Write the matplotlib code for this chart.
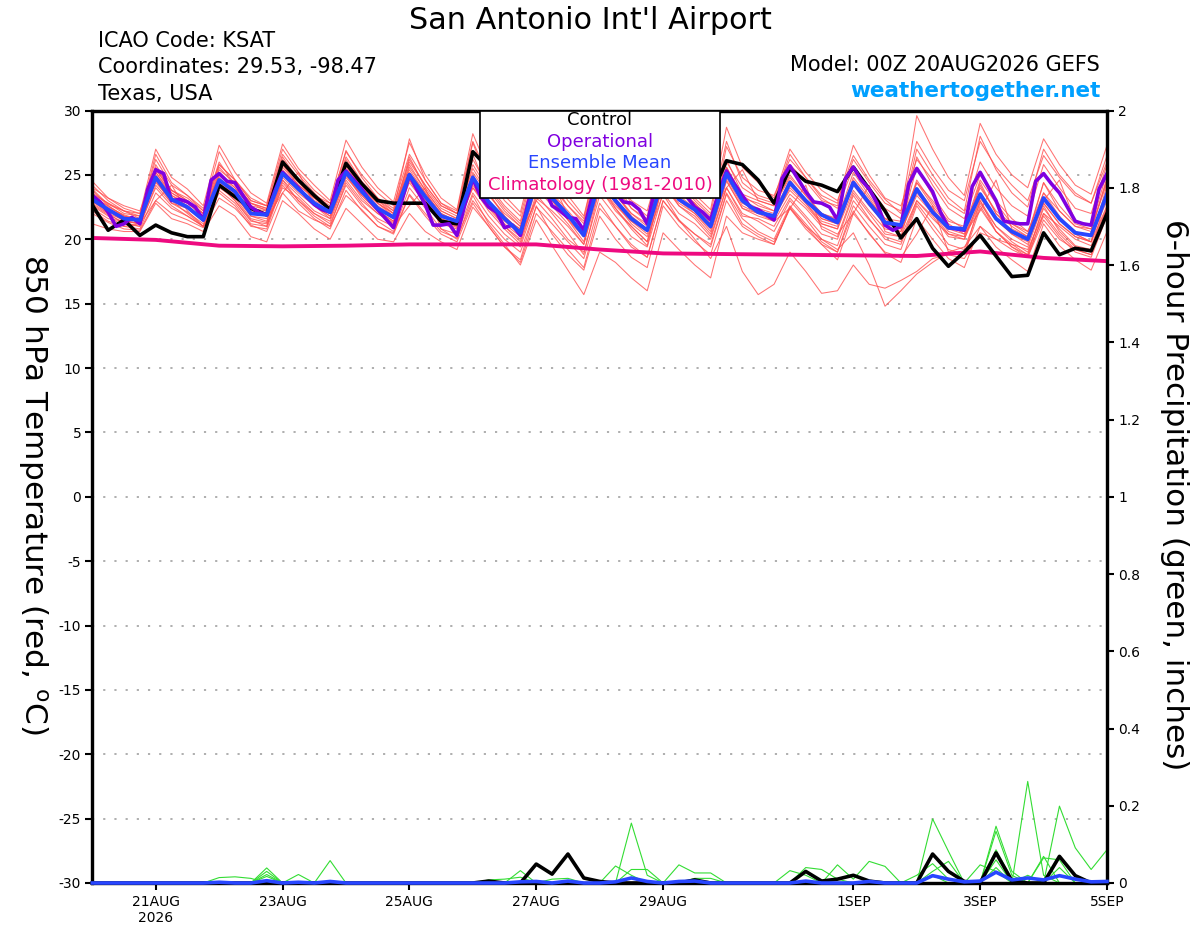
import matplotlib
matplotlib.use('Agg')
import matplotlib.pyplot as plt
import numpy as np
from matplotlib.patches import Rectangle

plt.rcParams['font.family'] = ['DejaVu Sans']

# ---------------- DATA ----------------
# time axis: days since 20AUG2026 00Z ; 6-hourly (65 pts) and 3-hourly (129 pts)
n6 = 65
n3 = 129

tick_days = [1, 3, 5, 7, 9, 12, 14, 16]
tick_labels = ['21AUG\n2026', '23AUG', '25AUG', '27AUG', '29AUG', '1SEP', '3SEP', '5SEP']

temp_yticks = [-30, -25, -20, -15, -10, -5, 0, 5, 10, 15, 20, 25, 30]
precip_yticks = [0, 0.2, 0.4, 0.6, 0.8, 1, 1.2, 1.4, 1.6, 1.8, 2]

control_T = [22.65, 20.7, 21.5, 20.3, 21.1, 20.5, 20.2, 20.2, 24.2, 23.3, 22.4, 21.9,
             26.0, 24.6, 23.4, 22.3, 25.9, 24.3, 23.0, 22.8, 22.8, 22.8, 21.4, 21.2,
             26.8, 25.5, 24.6, 23.9, 25.6, 24.9, 24.3, 23.8, 25.8, 25.1, 24.6, 24.0,
             25.7, 25.0, 24.4, 23.3, 26.1, 25.8, 24.6, 22.8, 25.5, 24.5, 24.2, 23.7,
             25.6, 23.9, 22.2, 20.1, 21.6, 19.3, 17.9, 19.0, 20.3, 18.7, 17.1, 17.2,
             20.5, 18.8, 19.3, 19.1, 22.0]

operational_T = [23.4, 22.9, 22.1, 21.0, 21.2, 21.7, 21.2, 23.9, 25.4, 25.1, 23.0, 23.1,
                 22.9, 22.5, 21.5, 24.6, 25.1, 24.5, 24.4, 23.4, 22.5, 22.1, 21.9, 23.7,
                 25.2, 24.6, 24.0, 23.3, 22.7, 22.3, 22.1, 24.6, 25.3, 24.6, 23.9, 23.0,
                 22.3, 21.6, 20.9, 22.9, 25.0, 23.8, 22.7, 21.1, 21.1, 21.2, 20.3, 22.7,
                 24.7, 23.3, 22.5, 22.1, 20.9, 21.1, 20.3, 22.9, 24.9, 24.0, 22.6, 22.2,
                 21.7, 21.6, 20.7, 23.2, 25.2, 24.5, 23.6, 22.9, 22.8, 22.3, 21.2, 24.0,
                 25.2, 24.2, 23.7, 23.3, 22.5, 22.1, 21.5, 23.6, 25.3, 24.3, 23.4, 22.5,
                 22.3, 21.9, 21.5, 24.7, 25.7, 24.7, 23.7, 22.9, 22.8, 22.5, 21.5, 24.7,
                 25.6, 24.6, 23.9, 22.8, 21.1, 20.7, 21.0, 24.3, 25.5, 24.6, 23.7, 22.1,
                 20.9, 20.8, 20.7, 24.1, 25.2, 24.1, 23.0, 21.4, 21.3, 21.2, 21.2, 24.5,
                 25.1, 24.3, 23.6, 22.5, 21.4, 21.2, 21.1, 23.9, 25.1]

mean_T = [23.1, 22.3, 21.6, 21.5, 24.8, 23.1, 22.5, 21.5, 24.6, 23.7, 22.0, 21.9,
          25.1, 23.9, 22.8, 22.1, 25.2, 23.7, 22.4, 21.7, 25.0, 23.3, 21.8, 21.4,
          24.8, 22.9, 21.6, 20.5, 24.4, 23.2, 21.9, 20.3, 24.6, 23.0, 21.6, 20.7,
          24.8, 23.1, 22.3, 21.0, 25.1, 23.0, 22.1, 21.8, 24.4, 23.0, 21.9, 21.3,
          24.4, 22.8, 21.3, 21.1, 23.9, 22.1, 20.9, 20.8, 23.5, 21.6, 20.6, 20.0,
          23.2, 21.6, 20.5, 20.3, 23.5]

clim_T = [20.1, 19.95, 19.5, 19.45, 19.5, 19.6, 19.6, 19.6, 19.2, 18.9, 18.85,
          18.8, 18.75, 18.7, 19.05, 18.55, 18.3]

members_T = [
    [24.5, 23.2, 22.4, 22.0, 27.0, 24.8, 23.9, 22.6, 27.3, 25.2, 23.6, 22.8, 27.4, 25.5, 24.2, 23.0,
     27.7, 25.6, 24.0, 22.9, 27.5, 25.0, 23.2, 22.3, 28.2, 25.3, 23.4, 22.1, 27.0, 25.1, 23.4, 21.8,
     26.8, 24.9, 23.0, 22.2, 26.5, 24.8, 23.5, 22.3, 28.7, 25.6, 24.4, 23.2, 27.0, 25.2, 23.8, 23.0,
     26.5, 24.6, 23.1, 22.0, 29.6, 27.0, 24.8, 23.4, 29.0, 26.6, 25.0, 24.0, 27.8, 25.8, 24.2, 23.5, 27.3],
    [22.0, 21.3, 20.8, 20.7, 23.0, 22.0, 21.5, 20.9, 23.2, 22.4, 21.1, 20.6, 23.6, 22.2, 21.5, 21.0,
     23.4, 22.3, 21.0, 20.5, 23.5, 22.0, 20.6, 20.1, 23.0, 21.4, 20.0, 19.0, 22.5, 21.2, 19.8, 18.5,
     22.8, 21.0, 19.6, 18.6, 23.0, 21.5, 20.4, 19.4, 23.5, 21.2, 20.4, 19.8, 22.4, 21.0, 19.6, 18.4,
     22.0, 20.5, 18.9, 18.2, 21.6, 20.0, 18.5, 17.8, 21.0, 19.4, 18.4, 17.5, 21.2, 19.5, 18.4, 17.6, 20.6],
    [23.5, 22.8, 22.0, 21.8, 25.5, 23.6, 22.9, 22.0, 25.0, 24.0, 22.6, 22.3, 26.0, 24.5, 23.0, 22.4,
     25.8, 24.2, 22.8, 22.0, 26.4, 24.0, 22.4, 21.8, 25.5, 23.5, 21.8, 20.6, 24.0, 23.0, 21.5, 19.8,
     25.5, 23.6, 22.0, 21.0, 25.8, 24.0, 22.8, 21.2, 26.2, 23.5, 23.0, 22.6, 25.0, 23.4, 22.0, 21.5,
     25.2, 23.4, 21.6, 20.8, 24.6, 22.8, 21.2, 20.4, 24.2, 22.0, 21.0, 20.2, 24.4, 22.2, 21.0, 20.6, 24.8],
    [22.8, 22.0, 21.2, 21.0, 24.2, 22.8, 22.1, 21.2, 24.0, 23.2, 21.6, 21.3, 24.8, 23.6, 22.6, 21.8,
     25.0, 23.2, 22.0, 21.2, 24.6, 22.8, 21.4, 20.9, 24.0, 22.2, 20.8, 19.6, 23.5, 22.0, 20.5, 18.8,
     24.0, 22.4, 20.8, 19.5, 24.5, 22.6, 21.6, 20.2, 24.0, 22.0, 21.4, 20.6, 23.0, 21.6, 20.0, 19.2,
     20.5, 18.0, 14.8, 16.0, 17.3, 18.2, 19.0, 19.4, 21.0, 20.0, 19.2, 18.6, 21.5, 20.0, 19.2, 18.8, 22.0],
    [23.0, 22.0, 21.5, 21.2, 24.5, 23.0, 22.0, 21.0, 24.2, 23.0, 21.5, 21.0, 24.6, 23.0, 21.8, 21.0,
     24.4, 22.8, 21.4, 20.6, 24.0, 22.4, 20.8, 20.0, 23.4, 21.2, 19.6, 18.0, 21.5, 19.5, 17.6, 15.7,
     19.0, 18.2, 17.0, 16.0, 20.5, 19.2, 18.0, 17.0, 21.8, 20.5, 20.0, 19.6, 22.5, 21.0, 20.0, 19.5,
     23.0, 21.5, 20.2, 19.8, 23.0, 21.6, 20.4, 20.0, 23.2, 21.5, 20.4, 19.8, 22.8, 21.2, 20.2, 19.8, 22.6],
    [23.8, 22.6, 21.8, 21.6, 25.2, 23.4, 22.6, 21.6, 25.0, 23.8, 22.2, 22.0, 25.4, 24.0, 22.8, 22.0,
     25.6, 24.0, 22.6, 21.8, 25.2, 23.6, 22.0, 21.4, 25.0, 23.0, 21.6, 20.8, 24.6, 23.0, 21.5, 20.2,
     24.4, 22.8, 21.2, 20.2, 23.5, 21.5, 20.0, 18.5, 21.0, 17.5, 15.7, 16.5, 19.0, 17.5, 15.8, 16.0,
     18.0, 16.5, 16.2, 16.8, 17.5, 18.5, 18.8, 18.5, 20.5, 20.0, 19.6, 19.2, 22.0, 21.0, 20.0, 19.5, 22.5],
    [23.4, 22.5, 21.9, 21.5, 25.6, 23.8, 23.0, 22.0, 25.6, 24.2, 22.8, 22.4, 26.2, 24.6, 23.4, 22.8,
     26.4, 24.5, 23.2, 22.4, 26.0, 24.2, 22.6, 22.0, 26.2, 24.0, 22.4, 21.2, 25.5, 24.0, 22.6, 21.2,
     25.8, 24.0, 22.4, 21.6, 26.0, 24.4, 23.0, 21.8, 26.0, 24.0, 23.2, 22.8, 25.8, 24.5, 23.0, 22.6,
     26.2, 24.4, 22.8, 22.2, 27.6, 25.5, 23.8, 23.0, 27.6, 25.6, 24.2, 23.0, 26.5, 24.8, 23.4, 22.8, 26.0],
    [22.6, 21.8, 21.0, 21.2, 23.0, 24.2, 22.2, 21.0, 24.2, 23.0, 21.4, 21.2, 24.0, 23.2, 22.0, 21.4,
     24.6, 23.0, 22.0, 21.3, 24.4, 22.8, 21.2, 20.8, 24.2, 22.4, 21.0, 20.0, 23.2, 22.2, 21.0, 19.6,
     24.0, 22.2, 21.0, 19.8, 24.2, 22.6, 21.8, 20.4, 24.5, 22.4, 22.0, 21.4, 23.5, 22.4, 21.0, 20.4,
     22.0, 24.2, 20.6, 20.2, 23.0, 21.8, 20.2, 20.0, 22.8, 21.0, 19.8, 19.0, 22.4, 20.8, 19.5, 19.2, 22.4],
    [23.9, 22.7, 22.2, 21.8, 26.2, 24.2, 23.4, 22.2, 26.8, 24.6, 23.2, 22.6, 26.6, 25.0, 23.6, 22.4,
     26.9, 24.8, 23.2, 22.2, 27.8, 24.6, 22.8, 22.0, 27.5, 24.2, 22.6, 21.4, 26.2, 24.4, 22.6, 21.4,
     26.4, 24.5, 22.4, 21.4, 25.5, 24.2, 22.6, 21.0, 27.2, 24.8, 23.8, 23.4, 26.2, 24.8, 23.2, 22.4,
     25.6, 24.0, 22.4, 21.6, 27.0, 25.0, 23.2, 22.2, 28.0, 25.4, 23.6, 22.5, 27.0, 25.0, 23.6, 22.8, 26.5],
    [22.4, 21.6, 21.4, 21.2, 24.6, 22.8, 22.4, 21.4, 24.4, 23.4, 21.8, 21.6, 23.6, 25.2, 22.6, 21.6,
     24.8, 23.4, 22.2, 21.4, 24.8, 23.0, 21.4, 21.0, 24.5, 22.6, 21.2, 20.2, 24.2, 23.0, 21.6, 20.2,
     24.6, 22.8, 21.4, 20.6, 24.8, 23.0, 22.2, 21.0, 25.2, 22.8, 22.2, 21.6, 24.0, 22.8, 21.2, 20.8,
     23.8, 22.2, 20.8, 20.6, 23.4, 22.0, 20.4, 20.2, 23.0, 21.0, 20.0, 19.4, 22.8, 21.2, 20.2, 19.8, 23.4],
    [24.2, 23.0, 22.2, 22.0, 25.0, 23.4, 22.8, 21.8, 25.4, 24.4, 22.8, 22.4, 25.6, 24.2, 23.2, 22.2,
     25.4, 24.0, 22.8, 22.0, 25.6, 23.8, 22.2, 21.6, 25.2, 23.4, 22.0, 21.0, 25.0, 23.6, 22.2, 20.8,
     25.2, 23.4, 22.0, 21.2, 25.4, 23.6, 22.8, 21.6, 24.0, 25.4, 23.0, 22.6, 24.8, 23.4, 22.0, 21.6,
     24.6, 23.0, 21.6, 21.4, 24.4, 23.0, 21.4, 21.0, 24.0, 22.2, 21.2, 20.6, 23.6, 22.2, 21.0, 20.8, 24.4],
    [21.2, 20.8, 20.6, 20.6, 22.8, 21.6, 21.2, 20.6, 22.6, 21.8, 20.2, 19.8, 23.0, 22.0, 20.8, 20.0,
     22.4, 21.2, 20.0, 19.8, 22.0, 20.6, 19.8, 19.2, 22.5, 21.0, 19.4, 18.2, 22.0, 20.6, 19.2, 17.8,
     22.4, 21.0, 19.4, 18.6, 23.0, 21.4, 20.4, 19.6, 23.6, 21.6, 20.6, 20.0, 22.6, 21.2, 19.8, 19.0,
     22.2, 20.4, 19.0, 18.6, 20.4, 22.6, 19.0, 18.8, 22.4, 20.6, 19.6, 18.8, 21.8, 20.2, 19.0, 18.6, 21.8],
    [23.2, 22.4, 21.8, 21.4, 25.8, 23.8, 23.2, 22.2, 26.0, 24.2, 22.8, 22.2, 26.4, 24.6, 23.4, 22.6,
     26.0, 24.2, 23.0, 22.0, 25.8, 23.8, 22.2, 21.6, 26.6, 23.6, 21.8, 20.6, 25.2, 23.6, 21.8, 20.4,
     25.4, 23.6, 21.8, 20.8, 25.6, 23.8, 22.6, 21.4, 25.6, 23.2, 22.8, 22.2, 24.6, 23.0, 21.6, 21.2,
     24.8, 23.2, 21.4, 21.0, 25.6, 23.4, 21.6, 20.8, 24.6, 22.8, 21.2, 20.4, 24.4, 22.6, 21.2, 20.8, 24.6],
    [22.9, 22.2, 21.6, 21.6, 24.4, 23.0, 22.4, 21.6, 24.8, 23.6, 22.0, 21.8, 25.2, 23.8, 22.6, 21.8,
     25.4, 23.6, 22.4, 21.6, 24.6, 23.0, 21.6, 21.2, 24.0, 22.6, 21.4, 20.4, 23.0, 24.6, 21.8, 20.6,
     24.2, 22.6, 21.4, 20.4, 24.2, 22.8, 22.0, 20.8, 24.8, 22.6, 22.0, 21.8, 23.8, 22.6, 21.2, 20.8,
     24.4, 22.8, 21.0, 20.6, 23.6, 22.2, 20.6, 20.2, 23.6, 21.6, 20.4, 19.6, 23.2, 21.6, 20.4, 19.8, 23.8],
    [23.6, 22.8, 22.2, 21.6, 26.6, 24.4, 23.4, 22.4, 25.8, 24.6, 23.0, 22.6, 27.0, 25.2, 23.8, 22.8,
     26.8, 25.0, 23.6, 22.6, 26.6, 24.6, 22.8, 22.2, 27.6, 24.8, 23.0, 21.8, 26.4, 24.8, 23.0, 21.6,
     27.0, 24.8, 22.8, 21.8, 26.8, 24.6, 23.2, 22.0, 27.6, 24.4, 23.4, 23.0, 26.6, 24.8, 23.4, 22.8,
     27.3, 25.0, 23.2, 22.6, 26.2, 24.6, 22.8, 22.0, 26.0, 24.0, 22.6, 21.8, 25.8, 24.0, 22.4, 22.0, 25.8],
    [22.2, 21.4, 21.0, 20.8, 23.6, 22.4, 21.8, 21.0, 23.8, 22.8, 21.2, 21.0, 24.4, 23.0, 22.0, 21.2,
     24.2, 22.6, 21.6, 21.0, 22.6, 24.0, 20.8, 20.4, 23.6, 21.8, 20.4, 19.4, 23.0, 21.6, 20.0, 19.0,
     23.4, 21.8, 20.2, 19.4, 23.6, 22.0, 21.2, 20.0, 24.0, 21.8, 21.6, 21.0, 23.2, 21.8, 20.4, 20.0,
     23.4, 21.6, 20.0, 19.6, 22.8, 21.2, 19.6, 19.2, 22.6, 20.6, 19.4, 18.6, 22.0, 20.4, 19.2, 18.8, 22.2],
    [24.0, 23.2, 22.6, 22.2, 25.4, 23.8, 23.0, 22.0, 25.8, 24.6, 23.0, 22.6, 25.8, 24.4, 23.2, 22.4,
     26.2, 24.4, 23.0, 22.2, 25.4, 23.6, 22.0, 21.4, 25.8, 23.8, 22.2, 21.0, 24.6, 23.2, 21.8, 20.4,
     25.0, 23.2, 21.6, 20.6, 24.8, 23.2, 22.2, 21.0, 25.4, 23.0, 22.4, 22.0, 24.4, 22.8, 21.4, 21.0,
     24.2, 22.6, 21.2, 20.8, 24.0, 22.4, 20.8, 20.4, 22.2, 24.6, 20.8, 20.2, 23.0, 21.6, 20.6, 20.2, 23.0],
    [23.0, 22.2, 21.4, 21.2, 24.0, 22.6, 21.8, 21.0, 23.6, 22.6, 21.0, 20.8, 24.2, 22.8, 21.6, 20.8,
     23.8, 22.2, 21.0, 20.4, 23.4, 21.8, 20.4, 19.8, 22.8, 21.0, 19.4, 18.4, 22.6, 20.4, 18.8, 17.6,
     21.8, 20.0, 18.6, 17.8, 22.6, 21.0, 19.8, 18.8, 23.0, 21.0, 20.2, 19.6, 22.4, 20.8, 19.6, 19.0,
     22.6, 21.0, 19.6, 19.2, 22.6, 20.8, 19.2, 18.8, 23.0, 20.6, 19.4, 18.8, 22.6, 20.6, 19.4, 19.0, 23.6],
    [23.3, 22.6, 21.8, 21.4, 25.2, 23.6, 22.8, 21.8, 25.2, 24.0, 22.4, 22.2, 25.8, 24.2, 23.2, 22.4,
     25.8, 24.0, 22.8, 21.8, 26.2, 24.2, 22.6, 22.0, 24.8, 23.0, 21.6, 20.8, 24.4, 23.4, 22.0, 20.8,
     24.8, 23.0, 21.6, 20.8, 25.2, 23.4, 22.4, 21.4, 25.6, 23.4, 22.6, 22.2, 24.2, 23.0, 21.6, 21.2,
     24.4, 22.8, 21.2, 21.0, 26.4, 24.2, 22.4, 21.6, 25.0, 23.0, 21.6, 20.6, 23.0, 24.6, 21.4, 21.0, 25.2],
    [22.7, 21.9, 21.3, 21.0, 24.8, 23.2, 22.6, 21.4, 24.6, 23.4, 21.8, 21.4, 24.6, 23.4, 22.2, 21.6,
     25.0, 23.4, 22.2, 21.4, 25.0, 23.2, 21.6, 21.0, 24.4, 22.6, 21.0, 19.8, 24.0, 22.6, 21.2, 19.6,
     24.4, 22.4, 21.0, 19.8, 25.0, 23.0, 22.0, 20.6, 24.6, 22.4, 21.8, 21.4, 22.4, 24.2, 20.8, 20.2,
     23.6, 22.0, 20.4, 20.2, 24.4, 22.6, 21.0, 20.6, 24.4, 22.0, 20.6, 20.0, 23.6, 21.8, 20.4, 19.8, 24.2],
]

# 6-hour precipitation (inches); members given as {6-h index: value}, all other steps 0
control_P = {25: 0.005, 28: 0.049, 29: 0.023, 30: 0.075, 31: 0.013, 32: 0.004, 38: 0.008,
             45: 0.030, 46: 0.005, 47: 0.010, 48: 0.020, 49: 0.005, 53: 0.075, 54: 0.030,
             55: 0.004, 57: 0.078, 58: 0.006, 61: 0.069, 62: 0.019}
mean_P = {8: 0.002, 11: 0.006, 13: 0.002, 15: 0.004, 27: 0.003, 28: 0.004, 30: 0.005,
          33: 0.003, 34: 0.013, 35: 0.004, 37: 0.004, 38: 0.005, 45: 0.005, 49: 0.004,
          53: 0.019, 54: 0.010, 55: 0.003, 56: 0.005, 57: 0.028, 58: 0.008, 59: 0.013,
          60: 0.008, 61: 0.019, 62: 0.010, 63: 0.003, 64: 0.004}
members_P = [
    {34: 0.155, 35: 0.020, 53: 0.166, 54: 0.082, 57: 0.040, 59: 0.263, 60: 0.020},
    {11: 0.039, 37: 0.047, 38: 0.026, 39: 0.026, 57: 0.147, 58: 0.030, 61: 0.199,
     62: 0.091, 63: 0.035, 64: 0.086},
    {11: 0.030, 15: 0.058, 57: 0.134, 58: 0.020, 60: 0.069},
    {11: 0.022, 13: 0.022, 27: 0.032, 34: 0.035, 35: 0.035, 53: 0.030, 54: 0.056},
    {8: 0.014, 9: 0.016, 10: 0.012, 44: 0.032, 45: 0.020, 57: 0.086, 58: 0.010, 60: 0.065, 61: 0.060},
    {25: 0.008, 26: 0.010, 27: 0.015, 33: 0.044, 34: 0.020, 47: 0.047, 48: 0.010, 49: 0.056,
     50: 0.043, 56: 0.047, 57: 0.030},
    {29: 0.010, 30: 0.012, 45: 0.040, 46: 0.035, 47: 0.010, 53: 0.020, 61: 0.040},
    {11: 0.017, 38: 0.012, 39: 0.012, 52: 0.020, 53: 0.050, 54: 0.010, 57: 0.060, 59: 0.020},
]

# ---------------- PLOT ----------------
W, H = 1200, 927
fig = plt.figure(figsize=(W / 100, H / 100), dpi=100)
L, R, T, B = 92.3, 1107.0, 110.5, 883.0
ax = fig.add_axes([L / W, 1 - B / H, (R - L) / W, (B - T) / H])
ax2 = ax.twinx()

x6 = np.arange(n6) * 0.25
x3 = np.arange(n3) * 0.125
xc = np.arange(len(clim_T))

RED = '#ff4f4f'
for m in members_T:
    ax.plot(x6, m, color=RED, lw=0.75, alpha=0.8, zorder=2)
ax.plot(xc, clim_T, color='#ee0a80', lw=2.8, zorder=3, solid_capstyle='butt')
ax.plot(x6, control_T, color='black', lw=2.6, zorder=4)
ax.plot(x3, operational_T, color='#8000e0', lw=2.6, zorder=5)
ax.plot(x6, mean_T, color='#2846ff', lw=2.8, zorder=6)


def expand(d):
    v = np.zeros(n6)
    for k, val in d.items():
        v[k] = val
    return v


for d in members_P:
    ax2.plot(x6, expand(d), color='#33dd33', lw=0.8, zorder=2, clip_on=False)
ax2.plot(x6, expand(control_P), color='black', lw=2.6, zorder=4, clip_on=False)
ax2.plot(x6, expand(mean_P), color='#2846ff', lw=2.6, zorder=5, clip_on=False)

ax.set_xlim(0, 16)
ax.set_ylim(-30, 30)
ax2.set_ylim(0, 2)

ax.set_yticks(temp_yticks)
ax.set_yticklabels([str(v) for v in temp_yticks])
ax2.set_yticks(precip_yticks)
ax2.set_yticklabels(['%g' % v for v in precip_yticks])
ax.set_xticks(tick_days)
ax.set_xticklabels(tick_labels, linespacing=1.1)

for a in (ax, ax2):
    for s in a.spines.values():
        s.set_linewidth(2.3)
        s.set_color('black')
    a.tick_params(direction='out', length=5, width=1.5, labelsize=10, pad=3)
ax.tick_params(axis='x', pad=4)

ax.yaxis.grid(True, linestyle=(0, (1.2, 5)), color='#a8a8a8', lw=1.3)
ax.set_axisbelow(True)

# legend box
x0 = (480 - L) / (R - L)
x1 = (720 - L) / (R - L)
yb = (B - 198) / (B - T)
ax2.add_patch(Rectangle((x0, yb), x1 - x0, 1.0 - yb, transform=ax2.transAxes,
                        facecolor='white', edgecolor='black', lw=1.2, zorder=20, clip_on=False))
leg_items = [('Control', 'black', 120), ('Operational', '#8000e0', 142),
             ('Ensemble Mean', '#2846ff', 163), ('Climatology (1981-2010)', '#ee0a80', 185)]
for txt, col, yy in leg_items:
    ax2.text(600 / W, 1 - yy / H, txt, color=col, fontsize=13, ha='center', va='center',
             transform=fig.transFigure, zorder=21)

# header texts
fig.text(590 / W, 1 - 29 / H, "San Antonio Int'l Airport", fontsize=21.8, ha='center', va='baseline')
fig.text(98 / W, 1 - 47 / H, 'ICAO Code: KSAT', fontsize=15, ha='left', va='baseline')
fig.text(98 / W, 1 - 73 / H, 'Coordinates: 29.53, -98.47', fontsize=15, ha='left', va='baseline')
fig.text(98 / W, 1 - 100 / H, 'Texas, USA', fontsize=15, ha='left', va='baseline')
fig.text(1100 / W, 1 - 71 / H, 'Model: 00Z 20AUG2026 GEFS', fontsize=15, ha='right', va='baseline')
fig.text(1101 / W, 1 - 97 / H, 'weathertogether.net', fontsize=15.5, fontweight='bold',
         color='#00a0ff', ha='right', va='baseline')

fig.text(33 / W, 1 - 495 / H, r'850 hPa Temperature (red, $^{\mathregular{o}}$C)', fontsize=22.4,
         rotation=270, ha='center', va='center')
fig.text(1175 / W, 1 - 495 / H, '6-hour Precipitation (green, inches)', fontsize=22.4,
         rotation=270, ha='center', va='center')

fig.savefig('out.png', dpi=100)
